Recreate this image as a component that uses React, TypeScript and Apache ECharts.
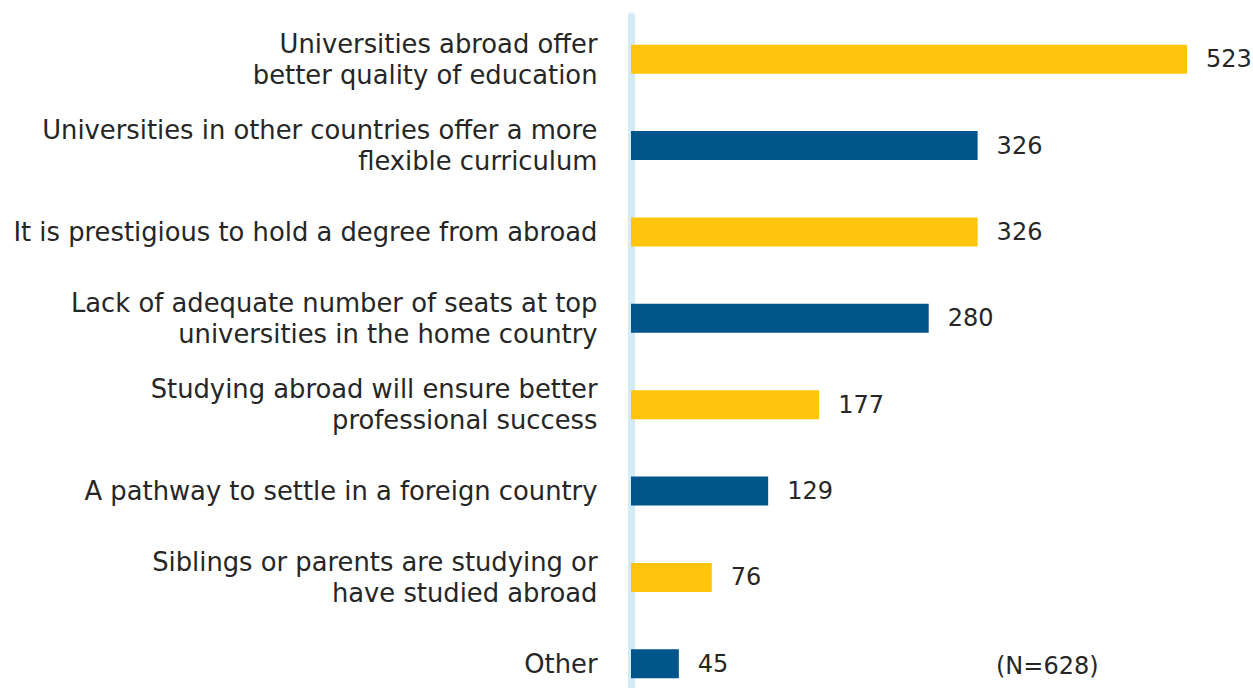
import React, { useEffect, useRef } from "react";
import * as echarts from "echarts";

const categories = [
  "Universities abroad offer\nbetter quality of education",
  "Universities in other countries offer a more\nflexible curriculum",
  "It is prestigious to hold a degree from abroad",
  "Lack of adequate number of seats at top\nuniversities in the home country",
  "Studying abroad will ensure better\nprofessional success",
  "A pathway to settle in a foreign country",
  "Siblings or parents are studying or\nhave studied abroad",
  "Other",
];
const values = [523, 326, 326, 280, 177, 129, 76, 45];
const barColors = ["#FFC40C", "#00558A"];
const note = "(N=628)";

export default function App() {
  const ref = useRef<HTMLDivElement>(null);
  useEffect(() => {
    if (!ref.current) return;
    const chart = echarts.init(ref.current, null, { renderer: "svg" });
    const font = "'DejaVu Sans', sans-serif";
    chart.setOption({
      animation: false,
      grid: { left: 631, top: 16, width: 622, height: 691, containLabel: false },
      xAxis: {
        type: "value",
        min: 0,
        max: 585,
        show: false,
      },
      yAxis: {
        type: "category",
        data: categories,
        inverse: true,
        offset: 3.5,
        axisLine: { show: true, lineStyle: { color: "#D2EBF7", width: 7 } },
        axisTick: { show: false },
        axisLabel: {
          margin: 30,
          fontFamily: font,
          fontSize: 25.8,
          lineHeight: 31,
          color: "#262626",
          align: "right",
        },
      },
      series: [
        {
          type: "bar",
          data: values.map((v, i) => ({ value: v, itemStyle: { color: barColors[i % 2] } })),
          barWidth: 29,
          label: {
            show: true,
            position: "right",
            distance: 19,
            fontFamily: font,
            fontSize: 24,
            color: "#262626",
          },
        },
      ],
      graphic: [
        {
          type: "text",
          x: 996,
          y: 666,
          style: {
            text: note,
            fontFamily: font,
            fontSize: 24,
            fill: "#262626",
            verticalAlign: "middle",
          },
        },
      ],
    });
    return () => chart.dispose();
  }, []);
  return (
    <div
      ref={ref}
      style={{ position: "fixed", left: 0, top: 0, width: 1253, height: 720, background: "#fff" }}
    />
  );
}
